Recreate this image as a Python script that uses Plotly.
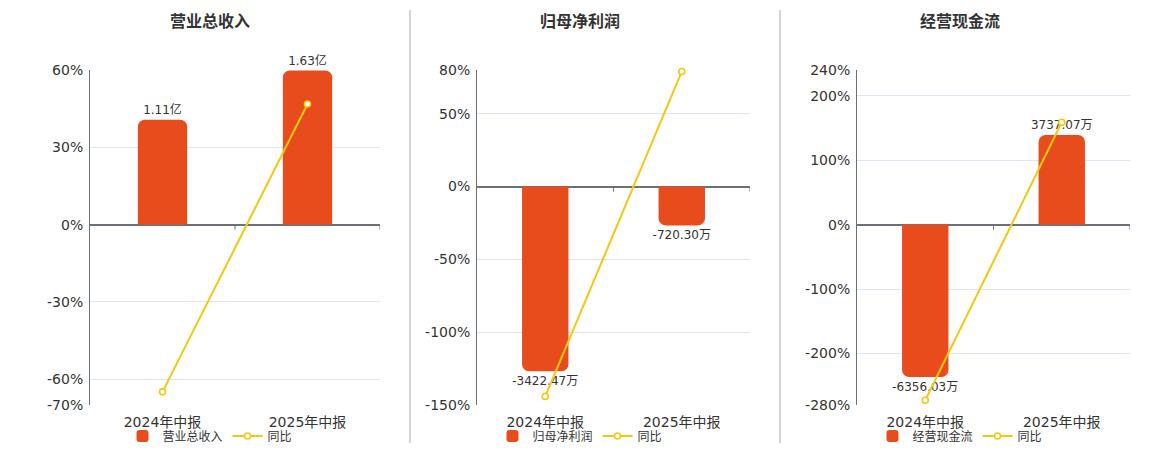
import plotly.graph_objects as go

# data
periods = ["2024年中报", "2025年中报"]

titles = ["营业总收入", "归母净利润", "经营现金流"]
units = ["亿", "万", "万"]

revenue = [1.11, 1.63]          # 亿
net_profit = [-3422.47, -720.30]  # 万
cash_flow = [-6356.03, 3737.07]   # 万

revenue_yoy = [-64.9, 46.8]
net_profit_yoy = [-144.1, 78.95]
cash_flow_yoy = [-272.7, 158.8]

pct_ticks = [
    [60, 30, 0, -30, -60, -70],
    [80, 50, 0, -50, -100, -150],
    [240, 200, 100, 0, -100, -200, -280],
]

bar_values = [revenue, net_profit, cash_flow]
yoy_values = [revenue_yoy, net_profit_yoy, cash_flow_yoy]

# layout settings
W, H = 1160, 450
OFF = 8  # page body margin
BAR_COLOR = "#E84C1C"
LINE_COLOR = "#F2C811"
TEXT = "#333333"
FONT = "DejaVu Sans, Noto Sans CJK SC, sans-serif"
pct_ranges = [[-70, 60], [-150, 80], [-280, 240]]
bar_scale = [0.02726, 26.97, 26.85]   # bar units per 1% on the shared scale
x_px = [(90, 380), (477, 750), (857, 1130)]
centers_px = [210, 580, 960]


def fx(px):
    return (px - OFF) / W


def fy(py):
    return 1 - (py - OFF) / H


y_dom = [fy(405), fy(70)]

fig = go.Figure()
shapes = []
annotations = []

for i in range(3):
    n = i + 1
    xa = "x" if n == 1 else f"x{n}"
    yb = "y" if n == 1 else f"y{2 * n - 1}"       # bars
    yp = f"y{2 * n}"                                # percent line
    leg = "legend" if n == 1 else f"legend{n}"

    vals = bar_values[i]
    labels = [f"{v:.2f}{units[i]}" for v in vals]

    fig.add_trace(go.Bar(
        x=periods, y=vals, xaxis=xa, yaxis=yb,
        name=titles[i], legend=leg,
        marker=dict(color=BAR_COLOR, cornerradius=7, line=dict(width=0)),
        width=0.34,
        text=labels, textposition="outside", cliponaxis=False,
        constraintext="none",
        textfont=dict(size=12, color=TEXT, family=FONT),
        hoverinfo="skip",
    ))
    fig.add_trace(go.Scatter(
        x=periods, y=yoy_values[i], xaxis=xa, yaxis=yp,
        name="同比", legend=leg, mode="lines+markers",
        line=dict(color=LINE_COLOR, width=2),
        marker=dict(size=6, color="white", line=dict(color=LINE_COLOR, width=1.6)),
        cliponaxis=False, hoverinfo="skip",
    ))

    x0, x1 = x_px[i]
    lo, hi = pct_ranges[i]
    s = bar_scale[i]
    xk = "xaxis" if n == 1 else f"xaxis{n}"
    ybk = "yaxis" if n == 1 else f"yaxis{2 * n - 1}"
    ypk = f"yaxis{2 * n}"

    fig.update_layout(**{
        xk: dict(domain=[fx(x0), fx(x1)], anchor=yb, range=[-0.5, 1.5],
                 showline=False, showgrid=False, ticks="", automargin=False,
                 ticklabelstandoff=7,
                 tickfont=dict(size=14, color=TEXT, family=FONT)),
        ybk: dict(domain=y_dom, anchor=xa, range=[lo * s, hi * s], automargin=False,
                  showgrid=False, zeroline=False, showticklabels=False, showline=False),
        ypk: dict(overlaying=yb, anchor=xa, side="left", range=[lo, hi],
                  automargin=False,
                  tickvals=pct_ticks[i], ticktext=[f"{t}%" for t in pct_ticks[i]],
                  showgrid=True, gridcolor="#E0E6F1", gridwidth=1,
                  zeroline=True, zerolinecolor="#6E7079", zerolinewidth=2,
                  showline=True, linecolor="#6E7079", linewidth=1,
                  ticks="", ticklen=0, ticklabelstandoff=3,
                  tickfont=dict(size=14, color=TEXT, family=FONT)),
        leg: dict(orientation="h", x=fx(centers_px[i]), xanchor="center",
                  y=fy(436), yanchor="middle", bgcolor="rgba(0,0,0,0)",
                  font=dict(size=12, color=TEXT, family=FONT),
                  itemwidth=30, tracegroupgap=0),
    })

    # small ticks on the zero axis at category boundaries
    for bx in [0.5, 1.5]:
        shapes.append(dict(type="line", xref=xa, yref=yp, x0=bx, x1=bx,
                           ysizemode="pixel", yanchor=0, y0=0, y1=-5,
                           line=dict(color="#6E7079", width=1)))

    annotations.append(dict(text=f"<b>{titles[i]}</b>", xref="paper", yref="paper",
                            x=fx(centers_px[i]), y=fy(22), showarrow=False,
                            xanchor="center", yanchor="middle",
                            font=dict(size=16, color=TEXT, family=FONT)))

# separators between panels
for sx in [410, 780]:
    shapes.append(dict(type="line", xref="paper", yref="paper",
                       x0=fx(sx), x1=fx(sx), y0=fy(443), y1=fy(10),
                       line=dict(color="#AAAAAA", width=1)))

fig.update_layout(
    width=W, height=H,
    margin=dict(l=0, r=0, t=0, b=0, autoexpand=False),
    paper_bgcolor="white", plot_bgcolor="white",
    showlegend=True, barmode="group",
    shapes=shapes, annotations=annotations,
    font=dict(family=FONT, color=TEXT),
)

fig.write_html("out.html")
